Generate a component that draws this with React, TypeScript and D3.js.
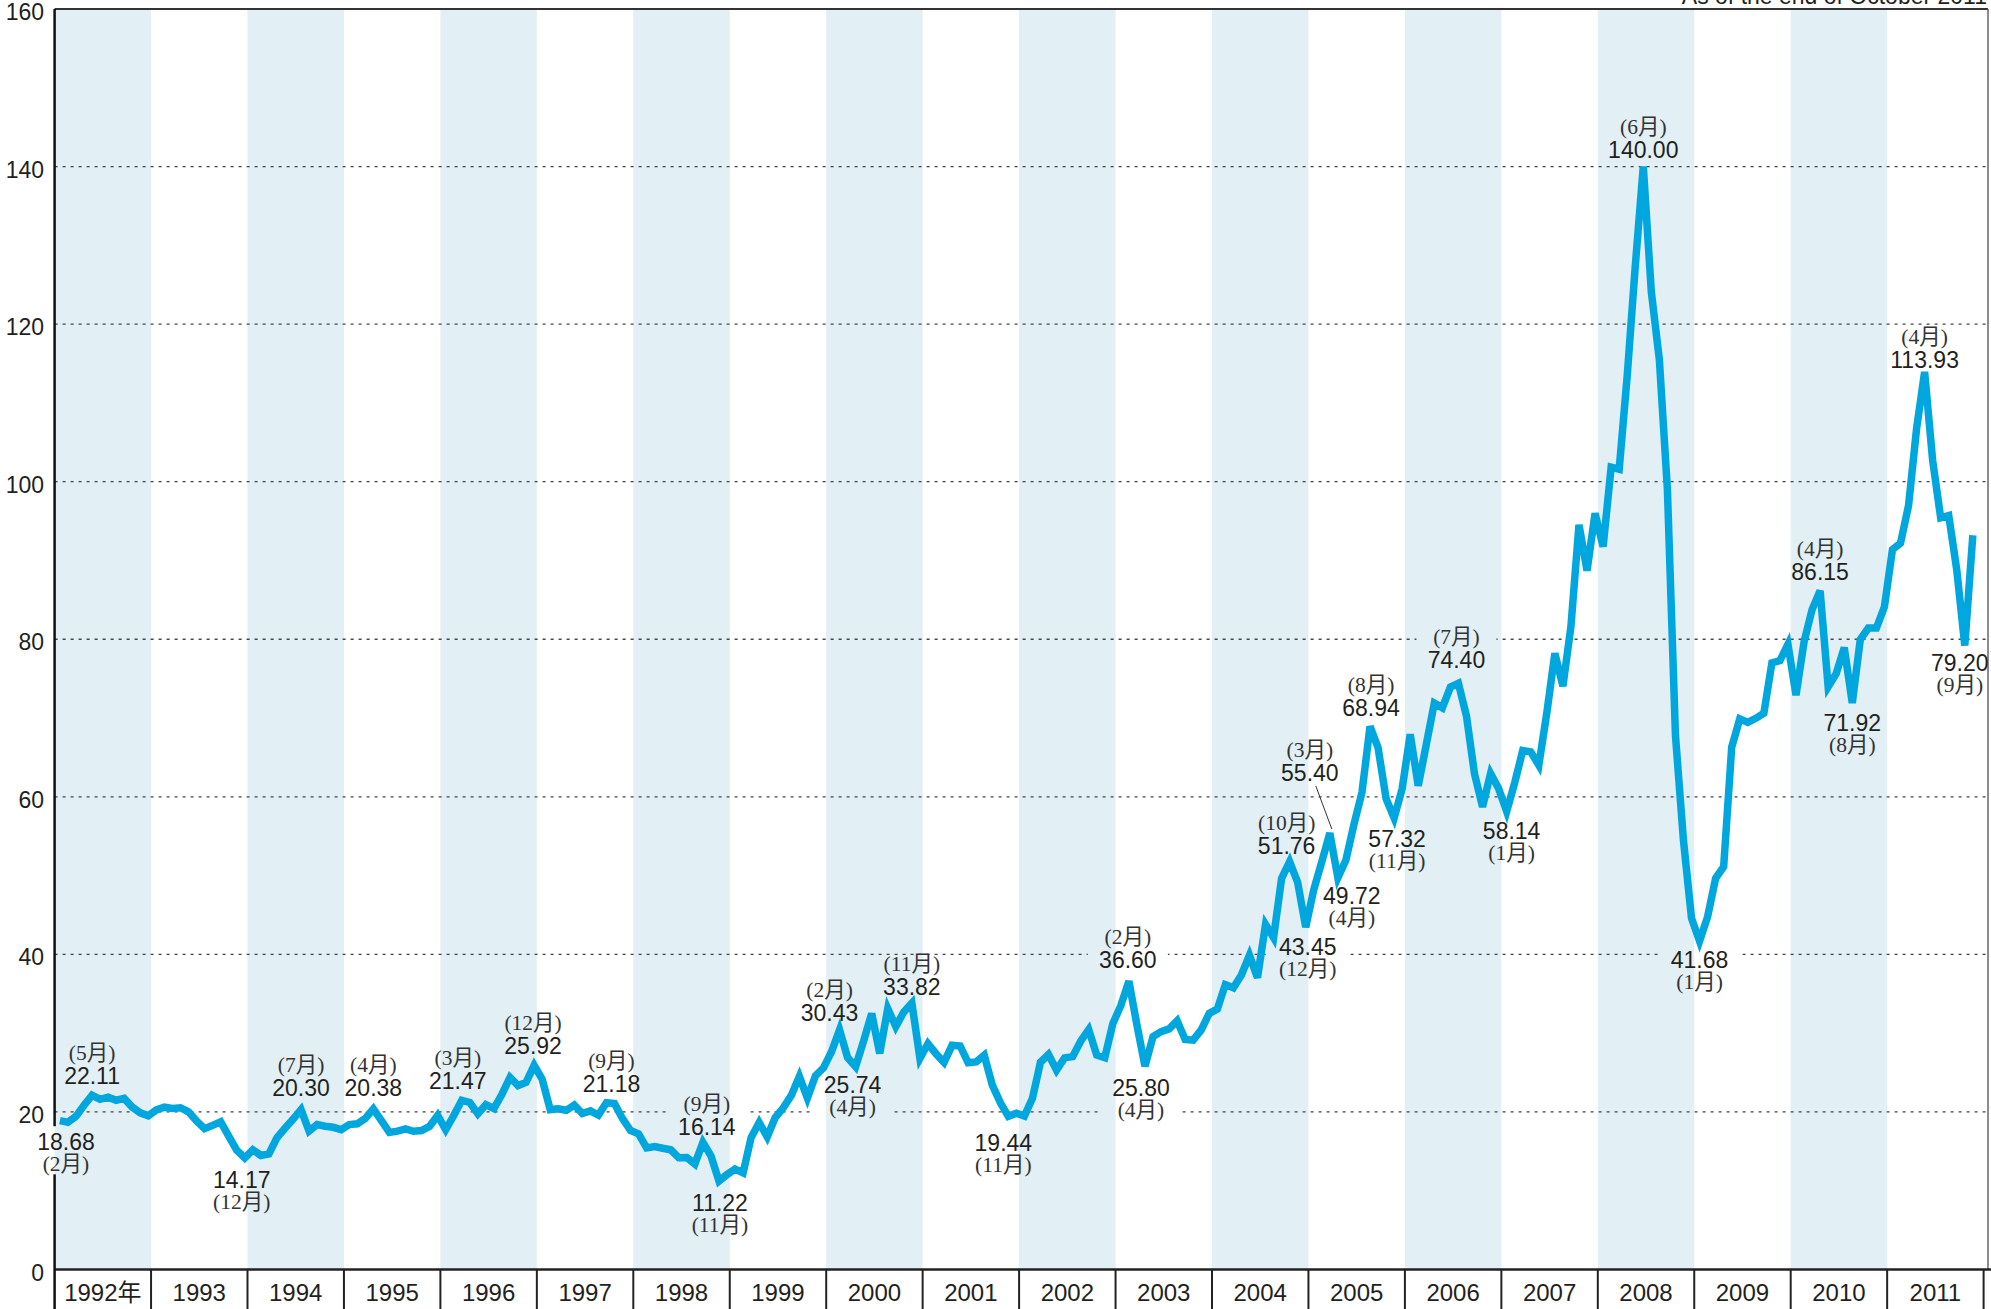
import React from 'react';
import * as d3 from 'd3';

// month-end close, USD/bbl, Jan 1992 .. Oct 2011 (one value per point as drawn)
const close1992 = [18.9, 18.68, 19.44, 20.85, 22.11, 21.6, 21.87, 21.48, 21.71, 20.62, 19.89, 19.5];
const close1993 = [20.26, 20.6, 20.44, 20.53, 20.02, 18.85, 17.88, 18.29, 18.74, 16.92, 15.16, 14.17];
const close1994 = [15.19, 14.48, 14.66, 16.7, 17.92, 19.06, 20.3, 17.56, 18.39, 18.19, 18.05, 17.76];
const close1995 = [18.39, 18.49, 19.17, 20.38, 18.89, 17.4, 17.56, 17.84, 17.54, 17.64, 18.18, 19.55];
const close1996 = [17.74, 19.54, 21.47, 21.2, 19.76, 20.92, 20.42, 22.25, 24.38, 23.35, 23.75, 25.92];
const close1997 = [24.15, 20.3, 20.41, 20.21, 20.88, 19.8, 20.14, 19.61, 21.18, 21.08, 19.15, 17.64];
const close1998 = [17.21, 15.44, 15.61, 15.39, 15.2, 14.18, 14.21, 13.39, 16.14, 14.42, 11.22, 12.05];
const close1999 = [12.75, 12.27, 16.76, 18.66, 16.84, 19.29, 20.53, 22.1, 24.51, 21.75, 24.59, 25.6];
const close2000 = [27.64, 30.43, 26.9, 25.74, 29.01, 32.5, 27.43, 33.12, 30.84, 32.7, 33.82, 26.8];
const close2001 = [28.66, 27.39, 26.29, 28.46, 28.37, 26.25, 26.35, 27.2, 23.43, 21.18, 19.44, 19.84];
const close2002 = [19.48, 21.74, 26.31, 27.29, 25.31, 26.86, 27.02, 28.98, 30.45, 27.22, 26.89, 31.2];
const close2003 = [33.51, 36.6, 31.04, 25.8, 29.56, 30.19, 30.54, 31.57, 29.2, 29.11, 30.41, 32.52];
const close2004 = [33.05, 36.16, 35.76, 37.38, 39.88, 37.05, 43.8, 42.12, 49.64, 51.76, 49.13, 43.45];
const close2005 = [48.2, 51.75, 55.4, 49.72, 51.97, 56.5, 60.57, 68.94, 66.24, 59.76, 57.32, 61.04];
const close2006 = [67.92, 61.41, 66.63, 71.88, 71.29, 73.93, 74.4, 70.26, 62.91, 58.73, 62.97, 61.05];
const close2007 = [58.14, 61.79, 65.87, 65.71, 64.01, 70.68, 78.21, 74.04, 81.66, 94.53, 88.71, 95.98];
const close2008 = [91.75, 101.84, 101.58, 113.46, 127.35, 140.0, 124.08, 115.46, 99.0, 67.81, 54.43, 44.6];
const close2009 = [41.68, 44.76, 49.66, 51.12, 66.31, 69.89, 69.45, 69.96, 70.61, 77.0, 77.28, 79.36];
// the drawn line has a flat extra step after October 2010
const close2010 = [72.89, 79.66, 83.76, 86.15, 73.97, 75.63, 78.95, 71.92, 79.97, 81.43, 81.43, 84.11, 91.38];
const close2011 = [92.19, 96.97, 106.72, 113.93, 102.7, 95.42, 95.7, 88.81, 79.2, 93.19];

const closes = [
  ...close1992, ...close1993, ...close1994, ...close1995, ...close1996,
  ...close1997, ...close1998, ...close1999, ...close2000, ...close2001,
  ...close2002, ...close2003, ...close2004, ...close2005, ...close2006,
  ...close2007, ...close2008, ...close2009, ...close2010, ...close2011,
];

const yearLabels = [
  '1992年', '1993', '1994', '1995', '1996', '1997', '1998', '1999', '2000', '2001',
  '2002', '2003', '2004', '2005', '2006', '2007', '2008', '2009', '2010', '2011',
];
const yTicks = [0, 20, 40, 60, 80, 100, 120, 140, 160];

// highs / lows that carry a label
const noteIndex = [1, 4, 23, 30, 39, 50, 59, 68, 80, 82, 97, 99, 106, 118, 133, 135, 153, 155, 158, 159, 163, 166, 174, 180, 197, 204, 219, 223, 232, 237];
const noteMonth = ['2月', '5月', '12月', '7月', '4月', '3月', '12月', '9月', '9月', '11月', '2月', '4月', '11月', '11月', '2月', '4月', '10月', '12月', '3月', '4月', '8月', '11月', '7月', '1月', '6月', '1月', '4月', '8月', '4月', '9月'];
const noteBelow = [true, false, true, false, false, false, false, false, false, true, false, true, false, true, false, true, false, true, false, true, false, true, false, true, false, true, false, true, false, true];

// layout: nudge of each label [dx, dy], and labels that cut the grid line
const noteNudge = [
  [-2, 0], [0, 0], [-3, 2], [0, -3], [0, -2], [-4, 0], [-1, 0], [5, 0], [4, 4], [1, 2],
  [-10, 2], [-3, -2], [0, 3], [-5, 7], [-1, -2], [-4, 2], [-3, 3], [2, 0], [-20, -41], [14, -2],
  [1, 1], [3, 1], [-2, -4], [5, 0], [0, 2], [0, -1], [0, 0], [0, 0], [0, 7], [-5, -3],
];
const knockouts = [80, 99, 133, 135, 155, 174, 204];

const W = 1991;
const H = 1309;
const plotLeft = 54.6;
const plotRight = 1988;
const plotTop = 9;
const plotBottom = 1269.5;
const axisBottom = H;

const App = () => {
  const months = yearLabels.length * 12;
  const x = d3.scaleLinear().domain([0, months]).range([plotLeft, 1983.6]);
  const y = d3.scaleLinear().domain([0, 160]).range([plotBottom, plotTop]);
  const px = (i) => x(i + 0.66);

  const line = d3
    .line<number>()
    .x((d, i) => px(i))
    .y((d) => y(d));

  const notes = noteIndex.map((idx, k) => {
    const cx = px(idx) + noteNudge[k][0];
    const py = y(closes[idx]);
    const below = noteBelow[k];
    const vy = (below ? py + 20 : py - 19) + noteNudge[k][1];
    const my = below ? vy + 22 : vy - 23;
    return { idx, k, cx, vy, my, below, value: closes[idx].toFixed(2), month: `(${noteMonth[k]})` };
  });

  // the Feb 1992 label sits over the y axis, which is broken behind it
  const first = notes[0];
  const axisGapTop = first.vy - 16;
  const axisGapBottom = first.my + 10;

  const valueFont = "'Liberation Sans', Arial, sans-serif";
  const monthFont = "'Liberation Serif', 'Noto Sans CJK JP', serif";

  return (
    <svg
      width={W}
      height={H}
      style={{ position: 'absolute', left: 0, top: 0, background: '#fff' }}
    >
      <defs>
        <mask id="gridKnock">
          <rect x={0} y={0} width={W} height={H} fill="#fff" />
          {notes
            .filter((n) => knockouts.includes(n.idx))
            .map((n) => (
              <rect
                key={n.idx}
                x={n.cx - 40}
                y={Math.min(n.vy, n.my) - 12}
                width={80}
                height={Math.abs(n.vy - n.my) + 24}
                fill="#000"
              />
            ))}
        </mask>
      </defs>

      {/* alternate year bands */}
      {yearLabels.map((yl, k) =>
        k % 2 === 0 ? (
          <rect
            key={yl}
            x={x(k * 12)}
            y={plotTop}
            width={x(k * 12 + 12) - x(k * 12)}
            height={plotBottom - plotTop}
            fill="#e2eff5"
          />
        ) : null
      )}

      {/* dotted grid */}
      <g mask="url(#gridKnock)">
        {yTicks
          .filter((t) => t > 0 && t < 160)
          .map((t) => (
            <line
              key={t}
              x1={plotLeft}
              x2={plotRight}
              y1={y(t)}
              y2={y(t)}
              stroke="#444"
              strokeWidth={1.3}
              strokeDasharray="3 5"
            />
          ))}
      </g>

      <path d={line(closes) || ''} fill="none" stroke="#00a7df" strokeWidth={7.5} />

      {/* leader for the March 2005 label */}
      {notes
        .filter((n) => n.idx === 158)
        .map((n) => (
          <line
            key="leader"
            x1={n.cx + 6}
            y1={n.vy + 13}
            x2={px(n.idx) + 2}
            y2={y(closes[n.idx]) - 4}
            stroke="#333"
            strokeWidth={1}
          />
        ))}

      {/* frame */}
      <line x1={plotLeft} x2={plotRight} y1={plotTop} y2={plotTop} stroke="#333" strokeWidth={2} />
      <line x1={plotRight} x2={plotRight} y1={plotTop} y2={plotBottom} stroke="#666" strokeWidth={1.5} />
      <line x1={plotLeft} x2={W} y1={plotBottom} y2={plotBottom} stroke="#222" strokeWidth={2.5} />
      <line x1={plotLeft} x2={plotLeft} y1={plotTop} y2={axisGapTop} stroke="#111" strokeWidth={2.5} />
      <line x1={plotLeft} x2={plotLeft} y1={axisGapBottom} y2={axisBottom} stroke="#111" strokeWidth={2.5} />

      {notes.map((n) => (
        <g key={n.idx} fill="#231f20" textAnchor="middle">
          <text x={n.cx} y={n.vy} dominantBaseline="central" fontFamily={valueFont} fontSize={23}>
            {n.value}
          </text>
          <text x={n.cx} y={n.my} dominantBaseline="central" fontFamily={monthFont} fontSize={21.5} fill="#333">
            {n.month}
          </text>
        </g>
      ))}

      {/* year cells */}
      {d3.range(1, yearLabels.length + 1).map((k) => (
        <line
          key={k}
          x1={x(k * 12)}
          x2={x(k * 12)}
          y1={plotBottom}
          y2={axisBottom}
          stroke="#222"
          strokeWidth={2}
        />
      ))}
      {yearLabels.map((yl, k) => (
        <text
          key={yl}
          x={x(k * 12 + 6)}
          y={1292}
          textAnchor="middle"
          dominantBaseline="central"
          fontFamily="'Liberation Sans', 'Noto Sans CJK JP', sans-serif"
          fontSize={24}
          fill="#231f20"
        >
          {yl}
        </text>
      ))}

      {yTicks.map((t) => (
        <text
          key={t}
          x={44}
          y={y(t) + 3}
          textAnchor="end"
          dominantBaseline="central"
          fontFamily={valueFont}
          fontSize={23}
          fill="#231f20"
        >
          {t}
        </text>
      ))}

      <text x={1987} y={4} textAnchor="end" fontFamily={valueFont} fontSize={23} fill="#231f20">
        As of the end of October 2011
      </text>
    </svg>
  );
};

export default App;
